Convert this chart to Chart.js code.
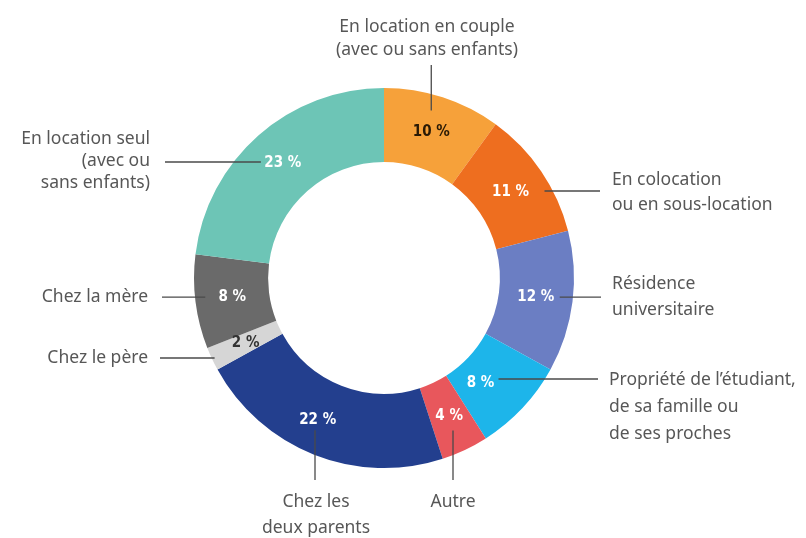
<!DOCTYPE html>
<html>
<head>
<meta charset="utf-8">
<script src="https://cdn.jsdelivr.net/npm/chart.js@4"></script>
<style>
  html, body { margin: 0; padding: 0; background: #fff; }
  canvas { display: block; }
</style>
</head>
<body>
<canvas id="housing" width="806" height="538"></canvas>
<script>
// Shares of students by type of housing (%), clockwise from the top
const categories = [
  ['En location en couple', '(avec ou sans enfants)'],
  ['En colocation', 'ou en sous-location'],
  ['Résidence', 'universitaire'],
  ['Propriété de l\u2019étudiant,', 'de sa famille ou', 'de ses proches'],
  ['Autre'],
  ['Chez les', 'deux parents'],
  ['Chez le père'],
  ['Chez la mère'],
  ['En location seul', '(avec ou', 'sans enfants)'],
];
const shares = [10, 11, 12, 8, 4, 22, 2, 8, 23];
const pctLabels = ['10 %', '11 %', '12 %', '8 %', '4 %', '22 %', '2 %', '8 %', '23 %'];
const sliceColors = ['#F6A13A', '#EE6E1F', '#6B7EC3', '#1DB5EA', '#E8575C', '#233F8E', '#D6D6D6', '#6A6A6A', '#6DC5B6'];
const pctColors = ['#2a1a05', '#fff', '#fff', '#fff', '#fff', '#fff', '#333', '#fff', '#fff'];

// ── Callout layout (text anchors and leader lines) ───────────────────────
// dir: where the leader goes from the percentage; start = gap from pct text
const callouts = [
  { dir: 'up',    gap: 22, end: 65,  tx: 427, ty: 27,  align: 'center', lh: 23 },
  { dir: 'right', gap: 34, end: 600, tx: 612, ty: 180, align: 'left',   lh: 25, ly: 191 },
  { dir: 'right', gap: 24, end: 601, tx: 612, ty: 284, align: 'left',   lh: 26 },
  { dir: 'right', gap: 18, end: 598, tx: 609, ty: 380, align: 'left',   lh: 27, dx: -15, ly: 379 },
  { dir: 'down',  gap: 14, end: 480, tx: 453, ty: 502, align: 'center', lh: 26, lx: 453 },
  { dir: 'down',  gap: 10, end: 480, tx: 316, ty: 502, align: 'center', lh: 26, dx: -10, lx: 315 },
  { dir: 'left',  gap: 31, end: 160, tx: 148, ty: 358, align: 'right',  lh: 22, ly: 358 },
  { dir: 'left',  gap: 27, end: 162, tx: 148, ty: 297, align: 'right',  lh: 22 },
  { dir: 'left',  gap: 22, end: 165, tx: 150, ty: 139, align: 'right',  lh: 22, ly: 162 },
];

const TEXT_COLOR = '#575757';
const LINE_COLOR = '#4a4a4a';

const calloutPlugin = {
  id: 'callouts',
  afterDatasetsDraw(chart) {
    const ctx = chart.ctx;
    const arcs = chart.getDatasetMeta(0).data;
    ctx.save();
    arcs.forEach((arc, i) => {
      const c = callouts[i];
      const mid = arc.tooltipPosition();
      const px = mid.x + (c.dx || 0);
      const py = mid.y;

      // percentage inside the ring
      ctx.font = 'bold 15px "DejaVu Sans Condensed", "Liberation Sans Narrow", sans-serif';
      ctx.fillStyle = pctColors[i];
      ctx.textAlign = 'center';
      ctx.textBaseline = 'middle';
      ctx.fillText(pctLabels[i], px, py);

      // leader line
      ctx.strokeStyle = LINE_COLOR;
      ctx.lineWidth = 1.3;
      ctx.beginPath();
      if (c.dir === 'up' || c.dir === 'down') {
        const lx = c.lx != null ? c.lx : px;
        const sy = c.dir === 'up' ? py - c.gap : py + c.gap;
        ctx.moveTo(lx, sy);
        ctx.lineTo(lx, c.end);
      } else {
        const ly = c.ly != null ? c.ly : py;
        const sx = c.dir === 'left' ? px - c.gap : px + c.gap;
        ctx.moveTo(sx, ly);
        ctx.lineTo(c.end, ly);
      }
      ctx.stroke();

      // category text
      ctx.font = '17.5px "Noto Sans", "Open Sans", sans-serif';
      ctx.fillStyle = TEXT_COLOR;
      ctx.textAlign = c.align;
      categories[i].forEach((line, k) => {
        ctx.fillText(line, c.tx, c.ty + k * c.lh);
      });
    });
    ctx.restore();
  },
};

new Chart(document.getElementById('housing'), {
  type: 'doughnut',
  data: {
    labels: categories.map(l => l.join(' ')),
    datasets: [{
      data: shares,
      backgroundColor: sliceColors,
      borderWidth: 0,
    }],
  },
  options: {
    responsive: false,
    animation: false,
    cutout: '61%',
    layout: { padding: { left: 194, right: 232, top: 88, bottom: 70 } },
    plugins: {
      legend: { display: false },
      tooltip: { enabled: false },
    },
  },
  plugins: [calloutPlugin],
});
</script>
</body>
</html>
